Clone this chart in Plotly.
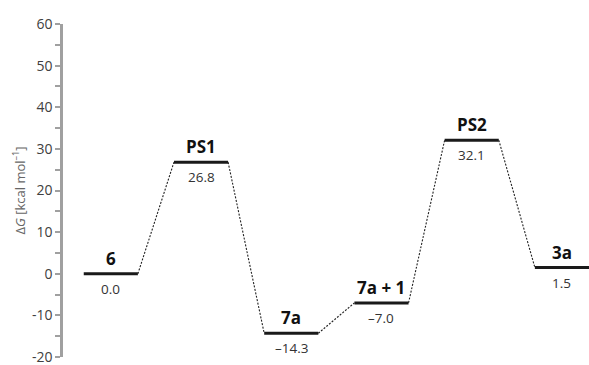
import plotly.graph_objects as go

names = ["6", "PS1", "7a", "7a + 1", "PS2", "3a"]
energies = [0.0, 26.8, -14.3, -7.0, 32.1, 1.5]
value_labels = ["0.0", "26.8", "\u201314.3", "\u20137.0", "32.1", "1.5"]
y_ticks = [-20, -10, 0, 10, 20, 30, 40, 50, 60]
y_tick_text = ["-20", "-10", "0", "10", "20", "30", "40", "50", "60"]

half = 0.3
fig = go.Figure()

# dashed connectors
for i in range(len(energies) - 1):
    fig.add_trace(go.Scatter(
        x=[i + half, i + 1 - half], y=[energies[i], energies[i + 1]],
        mode="lines", line=dict(color="#222222", width=1.1, dash="2px,1.5px"),
        hoverinfo="skip", showlegend=False))

# levels
for i, e in enumerate(energies):
    fig.add_trace(go.Scatter(
        x=[i - half, i + half], y=[e, e], mode="lines",
        line=dict(color="#1a1a1a", width=3), hoverinfo="skip", showlegend=False))
    fig.add_annotation(x=i, y=e, text="<b>%s</b>" % names[i], showarrow=False,
                       yanchor="bottom", yshift=2,
                       font=dict(family="Open Sans, sans-serif", size=17, color="#111111"))
    fig.add_annotation(x=i, y=e, text=value_labels[i], showarrow=False,
                       yanchor="top", yshift=-4,
                       font=dict(family="Open Sans, sans-serif", size=13.5, color="#333333"))

fig.update_layout(
    width=589, height=365,
    margin=dict(l=63, r=0, t=24, b=8, autoexpand=False),
    plot_bgcolor="white", paper_bgcolor="white",
    showlegend=False,
    xaxis=dict(range=[-0.53, 5.3], visible=False, fixedrange=True),
    yaxis=dict(
        range=[-20, 60], tickvals=y_ticks, ticktext=y_tick_text,
        showgrid=False, zeroline=False, automargin=False,
        ticklabeloverflow="allow",
        showline=True, linecolor="#a0a0a0", linewidth=2.5,
        ticks="outside", ticklen=5, tickwidth=1.5, tickcolor="#a0a0a0",
        minor=dict(dtick=5, ticks="outside", ticklen=5, tickwidth=1.5, tickcolor="#a0a0a0", showgrid=False),
        tickfont=dict(family="Open Sans, sans-serif", size=14, color="#404040"),
        title=dict(text="\u0394<i>G</i> [kcal mol<sup>\u20131</sup>]", standoff=4,
                   font=dict(family="Open Sans, sans-serif", size=13, color="#666666")),
    ),
)

fig.write_html("out.html", config={"displayModeBar": False},
               post_script="document.body.style.margin='0';")
